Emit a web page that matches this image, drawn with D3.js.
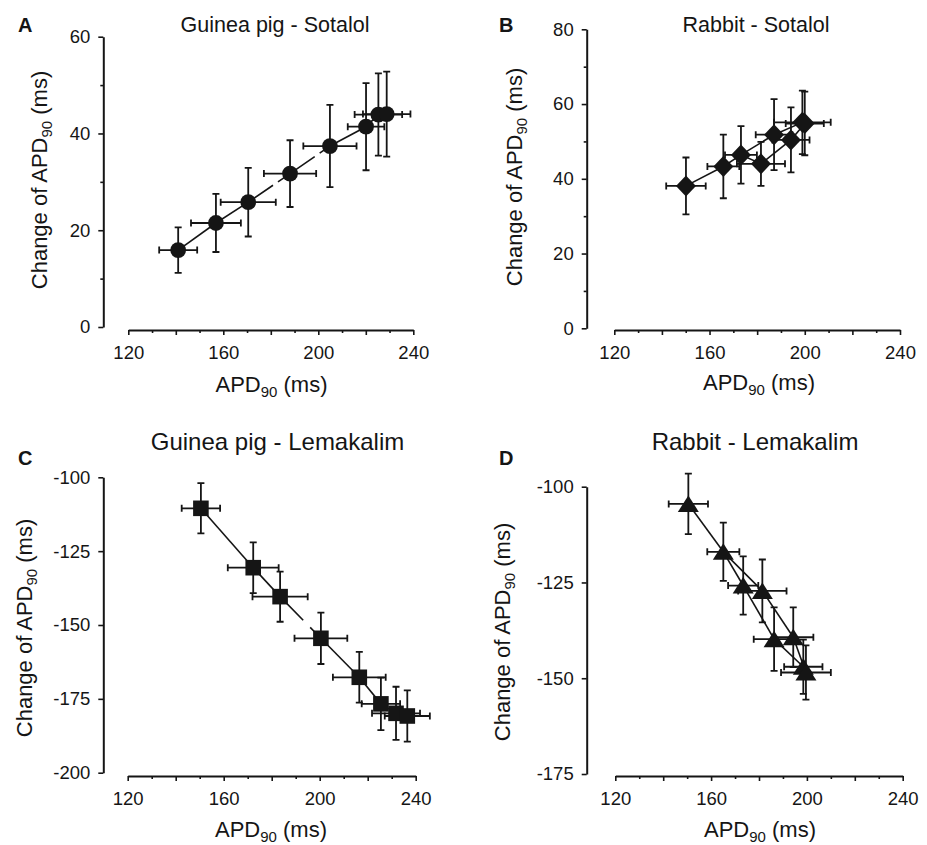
<!DOCTYPE html>
<html><head><meta charset="utf-8">
<script src="https://cdn.jsdelivr.net/npm/d3@7"></script>
<style>
body{margin:0;background:#fff}
svg{display:block}
text{font-family:"Liberation Sans",Arial,Helvetica,sans-serif;fill:#151515}
</style>
</head><body>
<svg id="chart" width="927" height="845"></svg>
<script>
// ---------- DATA ----------
const xTickLabels = [120, 160, 200, 240];

// A: Guinea pig - Sotalol
const gpSotalolAPD       = [141.0, 156.9, 170.5, 188.1, 204.9, 220.1, 225.3, 228.8];
const gpSotalolChange    = [15.9, 21.5, 25.8, 31.7, 37.4, 41.4, 43.9, 44.0];
const gpSotalolAPDErr    = [8.0, 10.5, 11.6, 11.0, 11.2, 7.7, 10.0, 10.0];
const gpSotalolChangeErr = [4.7, 6.0, 7.1, 6.9, 8.5, 9.0, 8.5, 8.8];
const gpSotalolYTicks    = [0, 20, 40, 60];

// B: Rabbit - Sotalol
const rbSotalolAPD       = [150.1, 165.8, 173.2, 181.6, 187.1, 194.2, 199.0, 200.0];
const rbSotalolChange    = [38.1, 43.3, 46.4, 44.0, 51.8, 50.4, 55.1, 54.8];
const rbSotalolAPDErr    = [8.3, 6.7, 6.7, 10.1, 7.7, 7.8, 11.9, 8.0];
const rbSotalolChangeErr = [7.6, 8.5, 7.7, 5.9, 9.5, 8.7, 8.5, 8.5];
const rbSotalolYTicks    = [0, 20, 40, 60, 80];

// C: Guinea pig - Lemakalim
const gpLemakalimAPD       = [150.5, 172.3, 183.5, 200.5, 216.5, 225.5, 231.8, 236.5];
const gpLemakalimChange    = [-110.5, -130.6, -140.4, -154.5, -167.7, -176.7, -179.9, -180.8];
const gpLemakalimAPDErr    = [8.0, 10.6, 11.5, 11.0, 11.0, 8.0, 10.0, 9.4];
const gpLemakalimChangeErr = [8.5, 8.6, 8.5, 8.7, 8.6, 8.9, 9.0, 8.7];
const gpLemakalimYTicks    = [-200, -175, -150, -125, -100];

// D: Rabbit - Lemakalim
const rbLemakalimAPD       = [150.5, 165.1, 173.4, 181.4, 186.3, 194.3, 198.5, 199.6];
const rbLemakalimChange    = [-104.5, -117.0, -125.8, -127.2, -139.8, -139.3, -147.0, -148.5];
const rbLemakalimAPDErr    = [8.2, 6.7, 6.3, 10.1, 8.5, 8.4, 8.0, 10.4];
const rbLemakalimChangeErr = [7.9, 7.6, 7.6, 8.2, 8.3, 7.8, 7.1, 7.1];
const rbLemakalimYTicks    = [-175, -150, -125, -100];

// ---------- LAYOUT / STYLE ----------
const panels = [
  { letter: "A", title: "Guinea pig - Sotalol", titleSize: 21.5, titleX: 275, titleY: 32, letterX: 18, letterY: 32,
    apd: gpSotalolAPD, chg: gpSotalolChange, apdErr: gpSotalolAPDErr, chgErr: gpSotalolChangeErr,
    yDomain: [0, 60], yTicks: gpSotalolYTicks, yMinor: [10, 30, 50],
    xRange: [128.3, 413.3], yRange: [327, 36.7], yAxisX: 103.3, xAxisY: 330,
    xTitle: [271.5, 391.5], yTitle: [47, 180], marker: "circle",
    lines: [[0,1,2,3,4,5,6,7]], dashedFrom: [2, 3], dash: "30,6" },
  { letter: "B", title: "Rabbit - Sotalol", titleSize: 21.5, titleX: 756, titleY: 32, letterX: 499, letterY: 32,
    apd: rbSotalolAPD, chg: rbSotalolChange, apdErr: rbSotalolAPDErr, chgErr: rbSotalolChangeErr,
    yDomain: [0, 80], yTicks: rbSotalolYTicks, yMinor: [10, 30, 50, 70],
    xRange: [614.3, 900], yRange: [328.3, 29.3], yAxisX: 586.7, xAxisY: 330,
    xTitle: [759, 390], yTitle: [522, 177], marker: "diamond",
    lines: [[0,1,2,4,6],[2,3,5,7]], dashedFrom: [], dash: null },
  { letter: "C", title: "Guinea pig  - Lemakalim", titleSize: 24, titleX: 277.5, titleY: 450, letterX: 18, letterY: 465,
    apd: gpLemakalimAPD, chg: gpLemakalimChange, apdErr: gpLemakalimAPDErr, chgErr: gpLemakalimChangeErr,
    yDomain: [-200, -100], yTicks: gpLemakalimYTicks, yMinor: [],
    xRange: [127.7, 415.7], yRange: [772.7, 477.3], yAxisX: 103.3, xAxisY: 776,
    xTitle: [271, 836.5], yTitle: [32, 628], marker: "square",
    lines: [[0,1,2,3,4,5,6,7]], dashedFrom: [2], dash: "33,10" },
  { letter: "D", title: "Rabbit - Lemakalim", titleSize: 24, titleX: 755, titleY: 450, letterX: 499, letterY: 465,
    apd: rbLemakalimAPD, chg: rbLemakalimChange, apdErr: rbLemakalimAPDErr, chgErr: rbLemakalimChangeErr,
    yDomain: [-175, -100], yTicks: rbLemakalimYTicks, yMinor: [],
    xRange: [615.3, 902.7], yRange: [774, 486.7], yAxisX: 586.7, xAxisY: 776,
    xTitle: [760, 836.5], yTitle: [510, 632], marker: "triangle",
    lines: [[0,1,3,5,7],[1,2,4,6]], dashedFrom: [], dash: null }
];

const ink = "#151515";
const svg = d3.select("#chart");

function markerPath(type) {
  if (type === "circle") return d3.symbol(d3.symbolCircle, Math.PI * 7.9 * 7.9)();
  if (type === "square") return "M-7.8,-7.8H7.8V7.8H-7.8Z";
  if (type === "diamond") return "M0,-10.5L10,0L0,10.5L-10,0Z";
  // triangle centred on its bounding box
  return "M0,-8.5L10.5,8L-10.5,8Z";
}

panels.forEach(p => {
  const g = svg.append("g");
  const x = d3.scaleLinear().domain([120, 240]).range(p.xRange);
  const y = d3.scaleLinear().domain(p.yDomain).range(p.yRange);
  const pts = p.apd.map((v, i) => ({ x: v, y: p.chg[i], ex: p.apdErr[i], ey: p.chgErr[i] }));

  // Y axis
  const yAx = g.append("g").attr("transform", `translate(${p.yAxisX},0)`)
    .call(d3.axisLeft(y).tickValues(p.yTicks).tickSize(5).tickSizeOuter(0).tickPadding(8).tickFormat(d => String(d)));
  if (p.yMinor.length) {
    g.append("g").attr("transform", `translate(${p.yAxisX},0)`)
      .call(d3.axisLeft(y).tickValues(p.yMinor).tickSize(3).tickFormat(""))
      .call(s => s.select(".domain").remove());
  }
  // X axis
  const xAxG = g.append("g").attr("transform", `translate(0,${p.xAxisY})`);
  xAxG.call(d3.axisBottom(x).tickValues(xTickLabels).tickSize(5).tickSizeOuter(0).tickPadding(11).tickFormat(d => String(d)));
  g.append("g").attr("transform", `translate(0,${p.xAxisY})`)
    .call(d3.axisBottom(x).tickValues(d3.range(140, 240, 40)).tickSize(5).tickFormat(""))
    .call(s => s.select(".domain").remove());
  g.append("g").attr("transform", `translate(0,${p.xAxisY})`)
    .call(d3.axisBottom(x).tickValues(d3.range(130, 240, 20)).tickSize(3).tickFormat(""))
    .call(s => s.select(".domain").remove());

  g.selectAll(".domain").attr("stroke", ink).attr("stroke-width", 2);
  g.selectAll(".tick line").attr("stroke", ink).attr("stroke-width", 1.6);
  g.selectAll(".tick text").attr("font-size", 18.5).attr("fill", ink)
    .attr("font-family", '"Liberation Sans",Arial,sans-serif');

  // Titles
  g.append("text").attr("x", p.letterX).attr("y", p.letterY).attr("font-size", 20).attr("font-weight", "bold").text(p.letter);
  g.append("text").attr("x", p.titleX).attr("y", p.titleY).attr("text-anchor", "middle").attr("font-size", p.titleSize).text(p.title);

  const xt = g.append("text").attr("x", p.xTitle[0]).attr("y", p.xTitle[1]).attr("text-anchor", "middle").attr("font-size", 22);
  xt.append("tspan").text("APD");
  xt.append("tspan").attr("font-size", 15).attr("dy", 5).text("90");
  xt.append("tspan").attr("dy", -5).text(" (ms)");

  const yt = g.append("text").attr("transform", `translate(${p.yTitle[0]},${p.yTitle[1]}) rotate(-90)`)
    .attr("text-anchor", "middle").attr("font-size", 22);
  yt.append("tspan").text("Change of APD");
  yt.append("tspan").attr("font-size", 15).attr("dy", 5).text("90");
  yt.append("tspan").attr("dy", -5).text(" (ms)");

  // Error bars
  const cap = 3.5;
  const eb = g.append("g").attr("stroke", ink).attr("stroke-width", 1.8).attr("fill", "none");
  pts.forEach(d => {
    const cx = x(d.x), cy = y(d.y);
    const x0 = x(d.x - d.ex), x1 = x(d.x + d.ex), y0 = y(d.y - d.ey), y1 = y(d.y + d.ey);
    eb.append("path").attr("d",
      `M${x0},${cy}H${x1}M${x0},${cy-cap}V${cy+cap}M${x1},${cy-cap}V${cy+cap}` +
      `M${cx},${y0}V${y1}M${cx-cap},${y0}H${cx+cap}M${cx-cap},${y1}H${cx+cap}`);
  });

  // Connecting lines
  const lg = g.append("g").attr("stroke", ink).attr("stroke-width", 1.6).attr("fill", "none");
  p.lines.forEach(seq => {
    for (let k = 0; k < seq.length - 1; k++) {
      const a = pts[seq[k]], b = pts[seq[k + 1]];
      const seg = lg.append("line").attr("x1", x(a.x)).attr("y1", y(a.y)).attr("x2", x(b.x)).attr("y2", y(b.y));
      if (p.dash && p.dashedFrom.includes(seq[k])) seg.attr("stroke-dasharray", p.dash);
    }
  });

  // Markers
  g.append("g").selectAll("path").data(pts).join("path")
    .attr("transform", d => `translate(${x(d.x)},${y(d.y)})`)
    .attr("d", markerPath(p.marker))
    .attr("fill", ink);
});
</script>
</body></html>
